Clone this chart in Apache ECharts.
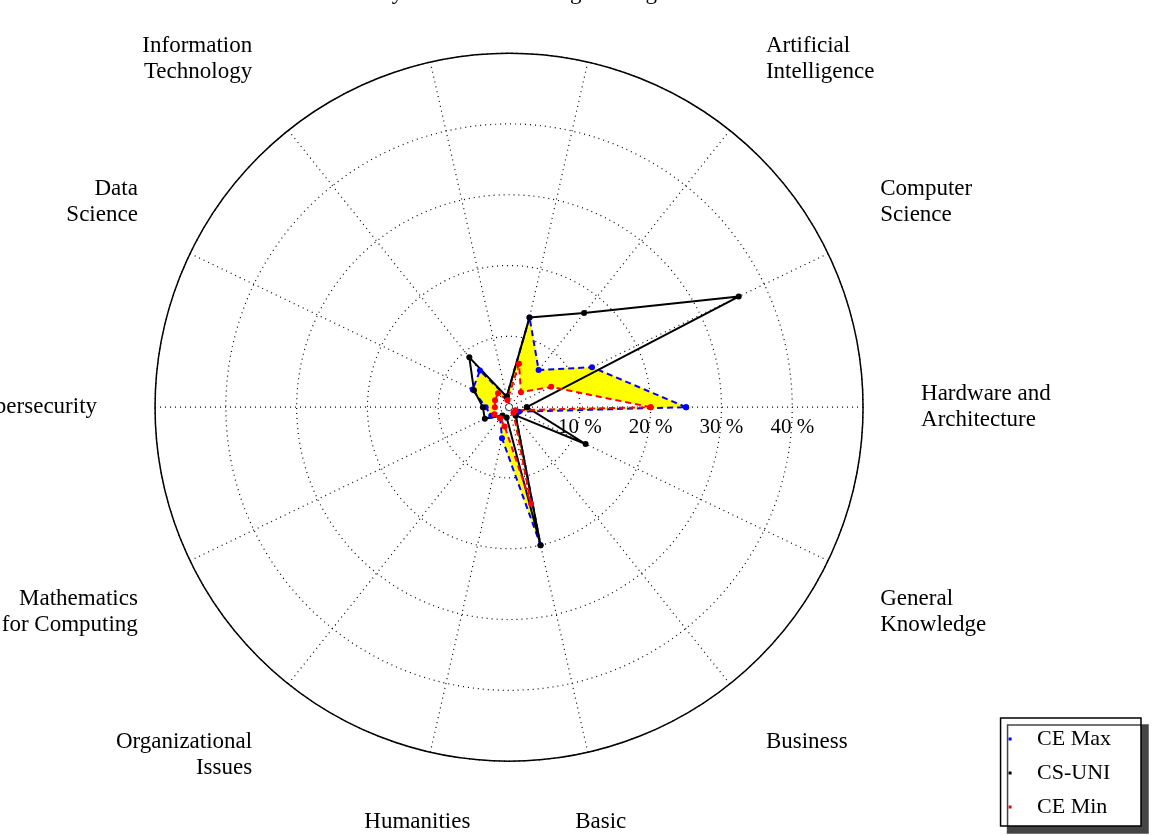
<!DOCTYPE html>
<html lang="en">
<head>
<meta charset="UTF-8">
<title>CE radar</title>
<script src="https://cdn.jsdelivr.net/npm/echarts@6/dist/echarts.min.js"></script>
<style>html,body{margin:0;background:#fff}#main{width:1153px;height:836px}</style>
</head>
<body>
<div id="main"></div>
<script>
// knowledge areas, counterclockwise from east
var areas = ['Hardware and\nArchitecture', 'Computer\nScience', 'Artificial\nIntelligence', 'Software\nEngineering',
  'Information\nSystems', 'Information\nTechnology', 'Data\nScience', 'Cybersecurity', 'Mathematics\nfor Computing',
  'Organizational\nIssues', 'Humanities', 'Basic\nSciences', 'Business', 'General\nKnowledge'];
var ceMax  = [25, 13, 6.7, 13, 1.5, 6.6, 5.7, 3.3, 2.8, 2, 4.5, 20, 1.5, 1.5];
var csUni  = [2.5, 36, 17, 13, 1.5, 9, 5.5, 3.7, 3.8, 1.5, 1.5, 20, 1.5, 12];
var ceMin  = [20, 6.6, 2.7, 6.3, 1, 2.5, 2.2, 2, 2.3, 2, 2.8, 14, 1, 1];
var rTicks = ['', '10 %', '20 %', '30 %', '40 %', ''];

function pts(arr) {
  var out = arr.map(function (v, i) { return [v, i]; });
  out.push([arr[0], arr.length]);
  return out;
}

var font = 'Liberation Serif';
var chart = echarts.init(document.getElementById('main'));

function lineSeries(name, arr, color, dash) {
  return {
    name: name, type: 'line', coordinateSystem: 'polar', data: pts(arr),
    symbol: 'circle', symbolSize: 6, z: 5,
    itemStyle: { color: color },
    lineStyle: { color: color, width: 2, type: dash ? [6, 4] : 'solid' }
  };
}

chart.setOption({
  animation: false,
  backgroundColor: '#fff',
  polar: { center: ['44.15%', '48.7%'], radius: 354 },
  angleAxis: {
    type: 'value', min: 0, max: 14, interval: 1, startAngle: 0, clockwise: false,
    axisLine: { lineStyle: { color: '#000', width: 1.5 } },
    axisTick: { show: false },
    splitLine: { lineStyle: { color: '#000', type: [1, 4], width: 1.2 } },
    axisLabel: {
      margin: 58, color: '#000', fontFamily: font, fontSize: 23, lineHeight: 26,
      align: 'center', verticalAlign: 'middle',
      formatter: function (v) { return v < 14 ? areas[v] : ''; }
    }
  },
  radiusAxis: {
    min: 0, max: 50, interval: 10,
    axisLine: { show: false }, axisTick: { show: false },
    splitLine: { lineStyle: { color: '#000', type: [1, 4], width: 1.2 } },
    axisLabel: {
      color: '#000', fontFamily: font, fontSize: 21, margin: -10, verticalAlign: 'top',
      formatter: function (v) { return rTicks[v / 10]; }
    }
  },
  legend: {
    orient: 'vertical', right: 12, bottom: 10, itemWidth: 44, itemHeight: 3,
    padding: [10, 30, 8, 8], itemGap: 12,
    backgroundColor: '#fff', borderColor: '#000', borderWidth: 1.5,
    shadowColor: '#444', shadowOffsetX: 7, shadowOffsetY: 7,
    textStyle: { color: '#000', fontFamily: font, fontSize: 22 },
    data: [
      { name: 'CE Max', icon: 'path://M0,0h1v1h-1z' },
      { name: 'CS-UNI', icon: 'path://M0,0h1v1h-1z' },
      { name: 'CE Min', icon: 'path://M0,0h1v1h-1z' }
    ]
  },
  series: [
    {
      type: 'custom', coordinateSystem: 'polar', data: [[0, 0]], z: 2, silent: true,
      renderItem: function (params, api) {
        var kids = [];
        var n = ceMax.length;
        for (var i = 0; i < n; i++) {
          var j = (i + 1) % n;
          kids.push({
            type: 'polygon',
            shape: { points: [api.coord([ceMax[i], i]), api.coord([ceMax[j], i + 1]),
                              api.coord([ceMin[j], i + 1]), api.coord([ceMin[i], i])] },
            style: { fill: '#ffff00', stroke: '#ffff00', lineWidth: 0.5 }
          });
        }
        return { type: 'group', children: kids };
      }
    },
    lineSeries('CE Max', ceMax, '#0000ff', true),
    lineSeries('CS-UNI', csUni, '#000000', false),
    lineSeries('CE Min', ceMin, '#ff0000', true)
  ]
});
</script>
</body>
</html>
